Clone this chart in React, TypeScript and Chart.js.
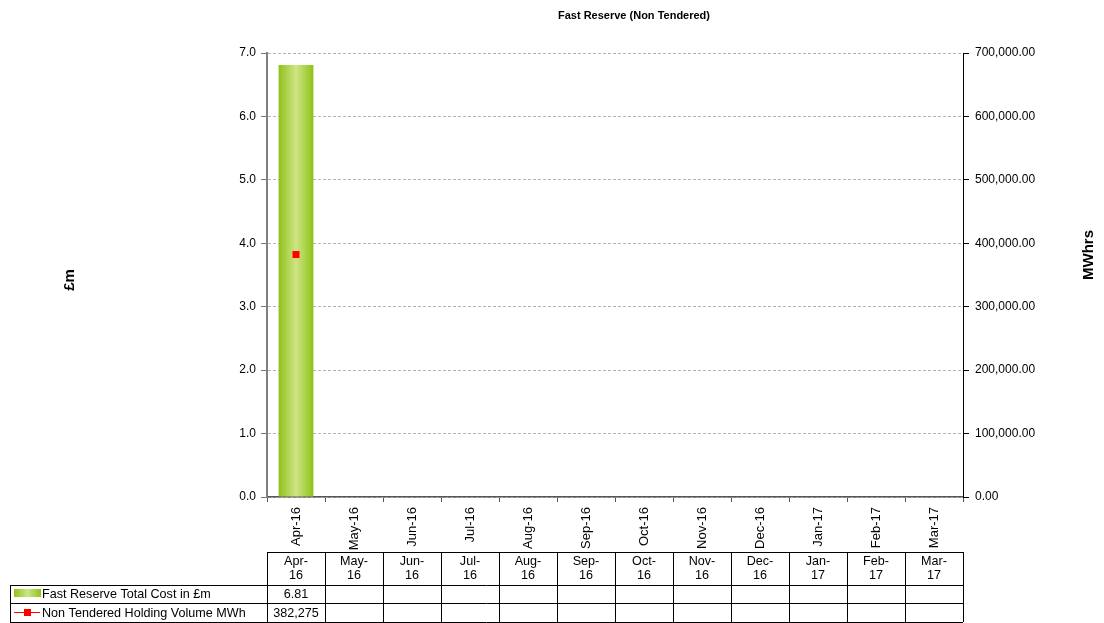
import React, { useEffect, useRef } from "react";
import { Chart, registerables } from "chart.js";

Chart.register(...registerables);

const categories = ["Apr-16", "May-16", "Jun-16", "Jul-16", "Aug-16", "Sep-16", "Oct-16", "Nov-16", "Dec-16", "Jan-17", "Feb-17", "Mar-17"];
const tableHeaders = [["Apr-", "16"], ["May-", "16"], ["Jun-", "16"], ["Jul-", "16"], ["Aug-", "16"], ["Sep-", "16"], ["Oct-", "16"], ["Nov-", "16"], ["Dec-", "16"], ["Jan-", "17"], ["Feb-", "17"], ["Mar-", "17"]];
const totalCost: (number | null)[] = [6.81, null, null, null, null, null, null, null, null, null, null, null];
const holdingVolume: (number | null)[] = [382275, null, null, null, null, null, null, null, null, null, null, null];
const costLabel = "Fast Reserve Total Cost in £m";
const volumeLabel = "Non Tendered Holding Volume MWh";
const chartTitle = "Fast Reserve (Non Tendered)";
const leftTitle = "£m";
const rightTitle = "MWhrs";

const FONT = "'Liberation Sans', Arial, sans-serif";

function barGradient(ctx: CanvasRenderingContext2D, x0: number, x1: number) {
  const g = ctx.createLinearGradient(x0, 0, x1, 0);
  g.addColorStop(0, "#8fc21a");
  g.addColorStop(0.5, "#cfe585");
  g.addColorStop(1, "#8fc21a");
  return g;
}

const extrasPlugin = {
  id: "extras",
  afterDraw(chart: any) {
    const ctx: CanvasRenderingContext2D = chart.ctx;
    const area = chart.chartArea;
    const xs = chart.scales.x;
    ctx.save();
    // title
    ctx.fillStyle = "#000";
    ctx.font = `bold 11px ${FONT}`;
    ctx.textAlign = "center";
    ctx.textBaseline = "middle";
    ctx.fillText(chartTitle, 634, 16);
    // axis titles
    ctx.font = `bold 15px ${FONT}`;
    ctx.save();
    ctx.translate(70, 280);
    ctx.rotate(-Math.PI / 2);
    ctx.fillText(leftTitle, 0, 0);
    ctx.restore();
    ctx.save();
    ctx.translate(1089, 255);
    ctx.rotate(-Math.PI / 2);
    ctx.fillText(rightTitle, 0, 0);
    ctx.restore();

    // data table
    const n = categories.length;
    const colW = (area.right - area.left) / n;
    const top = 552;
    const r1 = 585;
    const r2 = 603;
    const r3 = 622;
    const legL = 10;
    ctx.strokeStyle = "#000";
    ctx.lineWidth = 1;
    ctx.beginPath();
    ctx.moveTo(area.left, top + 0.5);
    ctx.lineTo(area.right, top + 0.5);
    ctx.moveTo(legL, r1 + 0.5);
    ctx.lineTo(area.right, r1 + 0.5);
    ctx.moveTo(legL, r2 + 0.5);
    ctx.lineTo(area.right, r2 + 0.5);
    ctx.moveTo(legL, r3 + 0.5);
    ctx.lineTo(area.right, r3 + 0.5);
    ctx.moveTo(legL + 0.5, r1);
    ctx.lineTo(legL + 0.5, r3);
    for (let i = 0; i <= n; i++) {
      const x = Math.round(area.left + i * colW) + 0.5;
      ctx.moveTo(x, top);
      ctx.lineTo(x, r3);
    }
    ctx.stroke();

    ctx.font = `12.6px ${FONT}`;
    ctx.fillStyle = "#000";
    ctx.textAlign = "center";
    for (let i = 0; i < n; i++) {
      const cx = xs.getPixelForValue(i);
      ctx.fillText(tableHeaders[i][0], cx, 562);
      ctx.fillText(tableHeaders[i][1], cx, 576);
      const c = totalCost[i];
      if (c !== null) ctx.fillText(c.toFixed(2), cx, (r1 + r2) / 2 + 1);
      const v = holdingVolume[i];
      if (v !== null) ctx.fillText(v.toLocaleString("en-GB"), cx, (r2 + r3) / 2 + 1);
    }
    // legend keys
    ctx.fillStyle = barGradient(ctx, 14, 41);
    ctx.fillRect(14, 589, 27, 8);
    ctx.strokeStyle = "#ff0000";
    ctx.lineWidth = 1;
    ctx.beginPath();
    ctx.moveTo(14, 612.5);
    ctx.lineTo(40, 612.5);
    ctx.stroke();
    ctx.fillStyle = "#ff0000";
    ctx.fillRect(24, 609, 7, 7);
    ctx.fillStyle = "#000";
    ctx.textAlign = "left";
    ctx.fillText(costLabel, 42, (r1 + r2) / 2 + 1);
    ctx.fillText(volumeLabel, 42, (r2 + r3) / 2 + 1);
    ctx.restore();
  },
};

export default function App() {
  const ref = useRef<HTMLCanvasElement>(null);
  useEffect(() => {
    if (!ref.current) return;
    const chart = new Chart(ref.current, {
      type: "bar",
      data: {
        labels: categories,
        datasets: [
          {
            type: "line",
            label: volumeLabel,
            data: holdingVolume,
            yAxisID: "y1",
            borderColor: "#ff0000",
            backgroundColor: "#ff0000",
            pointStyle: "rect",
            pointRadius: 5,
            pointBorderWidth: 0,
            borderWidth: 1,
            spanGaps: false,
            order: 0,
          },
          {
            type: "bar",
            label: costLabel,
            data: totalCost,
            yAxisID: "y",
            barPercentage: 0.6,
            categoryPercentage: 1.0,
            borderWidth: 0,
            backgroundColor: (c: any) => {
              const ch = c.chart;
              const xs = ch.scales?.x;
              const area = ch.chartArea;
              if (!xs || !area) return "#a8d040";
              const cx = xs.getPixelForValue(c.dataIndex);
              const w = ((area.right - area.left) / categories.length) * 0.6;
              return barGradient(ch.ctx, cx - w / 2, cx + w / 2);
            },
            order: 1,
          },
        ],
      },
      options: {
        animation: false,
        responsive: false,
        layout: { padding: { top: 53, bottom: 71, left: 0, right: 0 } },
        plugins: {
          legend: { display: false },
          title: { display: false },
          tooltip: { enabled: false },
        },
        scales: {
          x: {
            offset: true,
            grid: {
              offset: true,
              drawOnChartArea: false,
              drawTicks: true,
              tickLength: 5,
              color: "#555",
            },
            border: { color: "#555", width: 1.5 },
            ticks: {
              minRotation: 90,
              maxRotation: 90,
              padding: 5,
              color: "#000",
              font: { family: FONT, size: 13 },
            },
            afterFit: (s: any) => {
              s.height = 55;
            },
          },
          y: {
            position: "left",
            min: 0,
            max: 7,
            ticks: {
              stepSize: 1,
              color: "#000",
              padding: 5,
              font: { family: FONT, size: 12 },
              callback: (v: any) => Number(v).toFixed(1),
            },
            grid: {
              color: "#b4b4b4",
              tickColor: "#777",
              tickLength: 6,
              lineWidth: 1,
            },
            border: { color: "#808080", width: 2, dash: [3, 2] },
            afterFit: (s: any) => {
              s.width = 267;
            },
          },
          y1: {
            position: "right",
            min: 0,
            max: 700000,
            ticks: {
              stepSize: 100000,
              color: "#000",
              padding: 6,
              font: { family: FONT, size: 12 },
              callback: (v: any) =>
                Number(v).toLocaleString("en-GB", { minimumFractionDigits: 2, maximumFractionDigits: 2 }),
            },
            grid: {
              drawOnChartArea: false,
              tickColor: "#000",
              tickLength: 6,
            },
            border: { color: "#000", width: 1 },
            afterFit: (s: any) => {
              s.width = 141;
            },
          },
        },
      },
      plugins: [extrasPlugin],
    });
    return () => chart.destroy();
  }, []);
  return (
    <div style={{ position: "fixed", left: 0, top: 0, width: 1104, height: 623, background: "#fff" }}>
      <canvas ref={ref} width={1104} height={623} style={{ width: 1104, height: 623, display: "block" }} />
    </div>
  );
}
